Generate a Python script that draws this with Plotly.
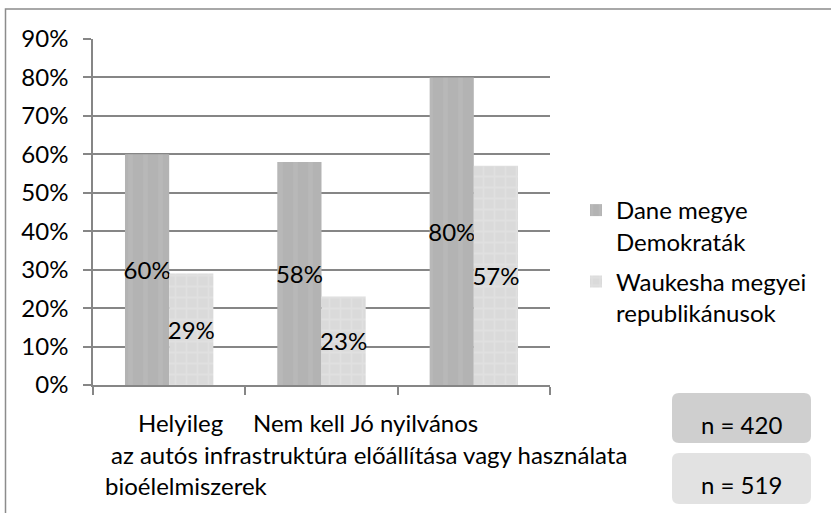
import plotly.graph_objects as go

# ---- data ----
categories = ["Helyileg bioélelmiszerek", "Nem kell az autós infrastruktúra", "Jó nyilvános előállítása vagy használata"]
series_names = ["Dane megye<br>Demokraták", "Waukesha megyei<br>republikánusok"]
dane_values = [0.60, 0.58, 0.80]
waukesha_values = [0.29, 0.23, 0.57]
y_tick_values = [0, 0.1, 0.2, 0.3, 0.4, 0.5, 0.6, 0.7, 0.8, 0.9]
y_tick_labels = ["0%", "10%", "20%", "30%", "40%", "50%", "60%", "70%", "80%", "90%"]
x_label_lines = ["Helyileg", "Nem kell Jó nyilvános",
                 "az autós infrastruktúra előállítása vagy használata",
                 "bioélelmiszerek"]
n_labels = ["n = 420", "n = 519"]

W, H = 831, 513
L, R, T, B = 93, 550, 39, 385
FONT = "Lato"
FS = 24


def px_x(px):
    return (px - L) / (R - L)


def px_y(py):
    return (B - py) / (B - T)


fig = go.Figure()
fig.add_trace(go.Bar(
    x=categories, y=dane_values, name=series_names[0], legendgroup="a",
    marker=dict(color="#b3b3b3", line=dict(width=0),
                pattern=dict(shape="|", fgcolor="#bdbdbd", size=15, solidity=0.3)),
    texttemplate="%{y:.0%}", textposition="inside", insidetextanchor="middle",
    textangle=0, constraintext="none", textfont=dict(family=FONT, size=FS, color="#000"),
))
fig.add_trace(go.Bar(
    x=categories, y=waukesha_values, name=series_names[1], legendgroup="b",
    marker=dict(color="#dadada", line=dict(width=0),
                pattern=dict(shape="+", fgcolor="#e6e6e6", size=11, solidity=0.3)),
    texttemplate="%{y:.0%}", textposition="inside", insidetextanchor="middle",
    textangle=0, constraintext="none", textfont=dict(family=FONT, size=FS, color="#000"),
))

shapes = []
# outer border
shapes.append(dict(type="rect", xref="paper", yref="paper",
                   x0=px_x(5.5), x1=px_x(840), y0=px_y(9), y1=px_y(520),
                   line=dict(color="#8c8c8c", width=1.5), layer="below"))


def rounded(x0, y0, x1, y1, r, color):
    X0, X1 = px_x(x0), px_x(x1)
    Y0, Y1 = px_y(y0), px_y(y1)
    rx = r / (R - L)
    ry = r / (B - T)
    path = (f"M {X0+rx},{Y0} L {X1-rx},{Y0} Q {X1},{Y0} {X1},{Y0-ry} "
            f"L {X1},{Y1+ry} Q {X1},{Y1} {X1-rx},{Y1} L {X0+rx},{Y1} "
            f"Q {X0},{Y1} {X0},{Y1+ry} L {X0},{Y0-ry} Q {X0},{Y0} {X0+rx},{Y0} Z")
    return dict(type="path", xref="paper", yref="paper", path=path,
                fillcolor=color, line=dict(width=0))


shapes.append(rounded(672, 393, 811, 443, 7, "#cfcfcf"))
shapes.append(rounded(672, 453, 811, 504, 7, "#e2e2e2"))

annotations = []
ann_font = dict(family=FONT, size=FS, color="#000")
annotations.append(dict(x=px_x(180.5), y=px_y(423), text=x_label_lines[0]))
annotations.append(dict(x=px_x(365.5), y=px_y(423), text=x_label_lines[1]))
annotations.append(dict(x=px_x(368.5), y=px_y(454), text=x_label_lines[2]))
annotations.append(dict(x=px_x(186), y=px_y(486), text=x_label_lines[3]))
annotations.append(dict(x=px_x(741.5), y=px_y(424), text=n_labels[0]))
annotations.append(dict(x=px_x(741.5), y=px_y(484), text=n_labels[1]))
for a in annotations:
    a.update(xref="paper", yref="paper", showarrow=False, xanchor="center",
             yanchor="middle", font=ann_font)

fig.update_layout(
    width=W, height=H,
    margin=dict(l=L, r=W - R, t=T, b=H - B, pad=0),
    paper_bgcolor="white", plot_bgcolor="white",
    barmode="group", bargap=0.42, bargroupgap=0,
    font=dict(family=FONT, size=FS, color="#000"),
    showlegend=True,
    legend=dict(x=px_x(576), y=px_y(188), xanchor="left", yanchor="top",
                xref="paper", yref="paper", valign="top",
                tracegroupgap=6, font=dict(family=FONT, size=FS, color="#000"),
                bgcolor="rgba(0,0,0,0)"),
    shapes=shapes, annotations=annotations,
)
fig.update_xaxes(type="category", showticklabels=False, ticks="outside",
                 tickson="boundaries", ticklen=8, tickcolor="#868686", tickwidth=1.5,
                 showline=True, linecolor="#868686", linewidth=1.5,
                 showgrid=False, automargin=False, fixedrange=True)
fig.update_yaxes(range=[0, 0.9], tickvals=y_tick_values, ticktext=y_tick_labels,
                 ticks="outside", ticklen=8, tickcolor="#868686", tickwidth=1.5,
                 ticklabelstandoff=10,
                 showline=True, linecolor="#868686", linewidth=1.5,
                 showgrid=True, gridcolor="#868686", gridwidth=1.5,
                 zeroline=False, automargin=False, fixedrange=True,
                 tickfont=dict(family=FONT, size=FS, color="#000"))

fig.write_html("out.html", config={"displayModeBar": False},
               post_script="document.body.style.margin='0';")
